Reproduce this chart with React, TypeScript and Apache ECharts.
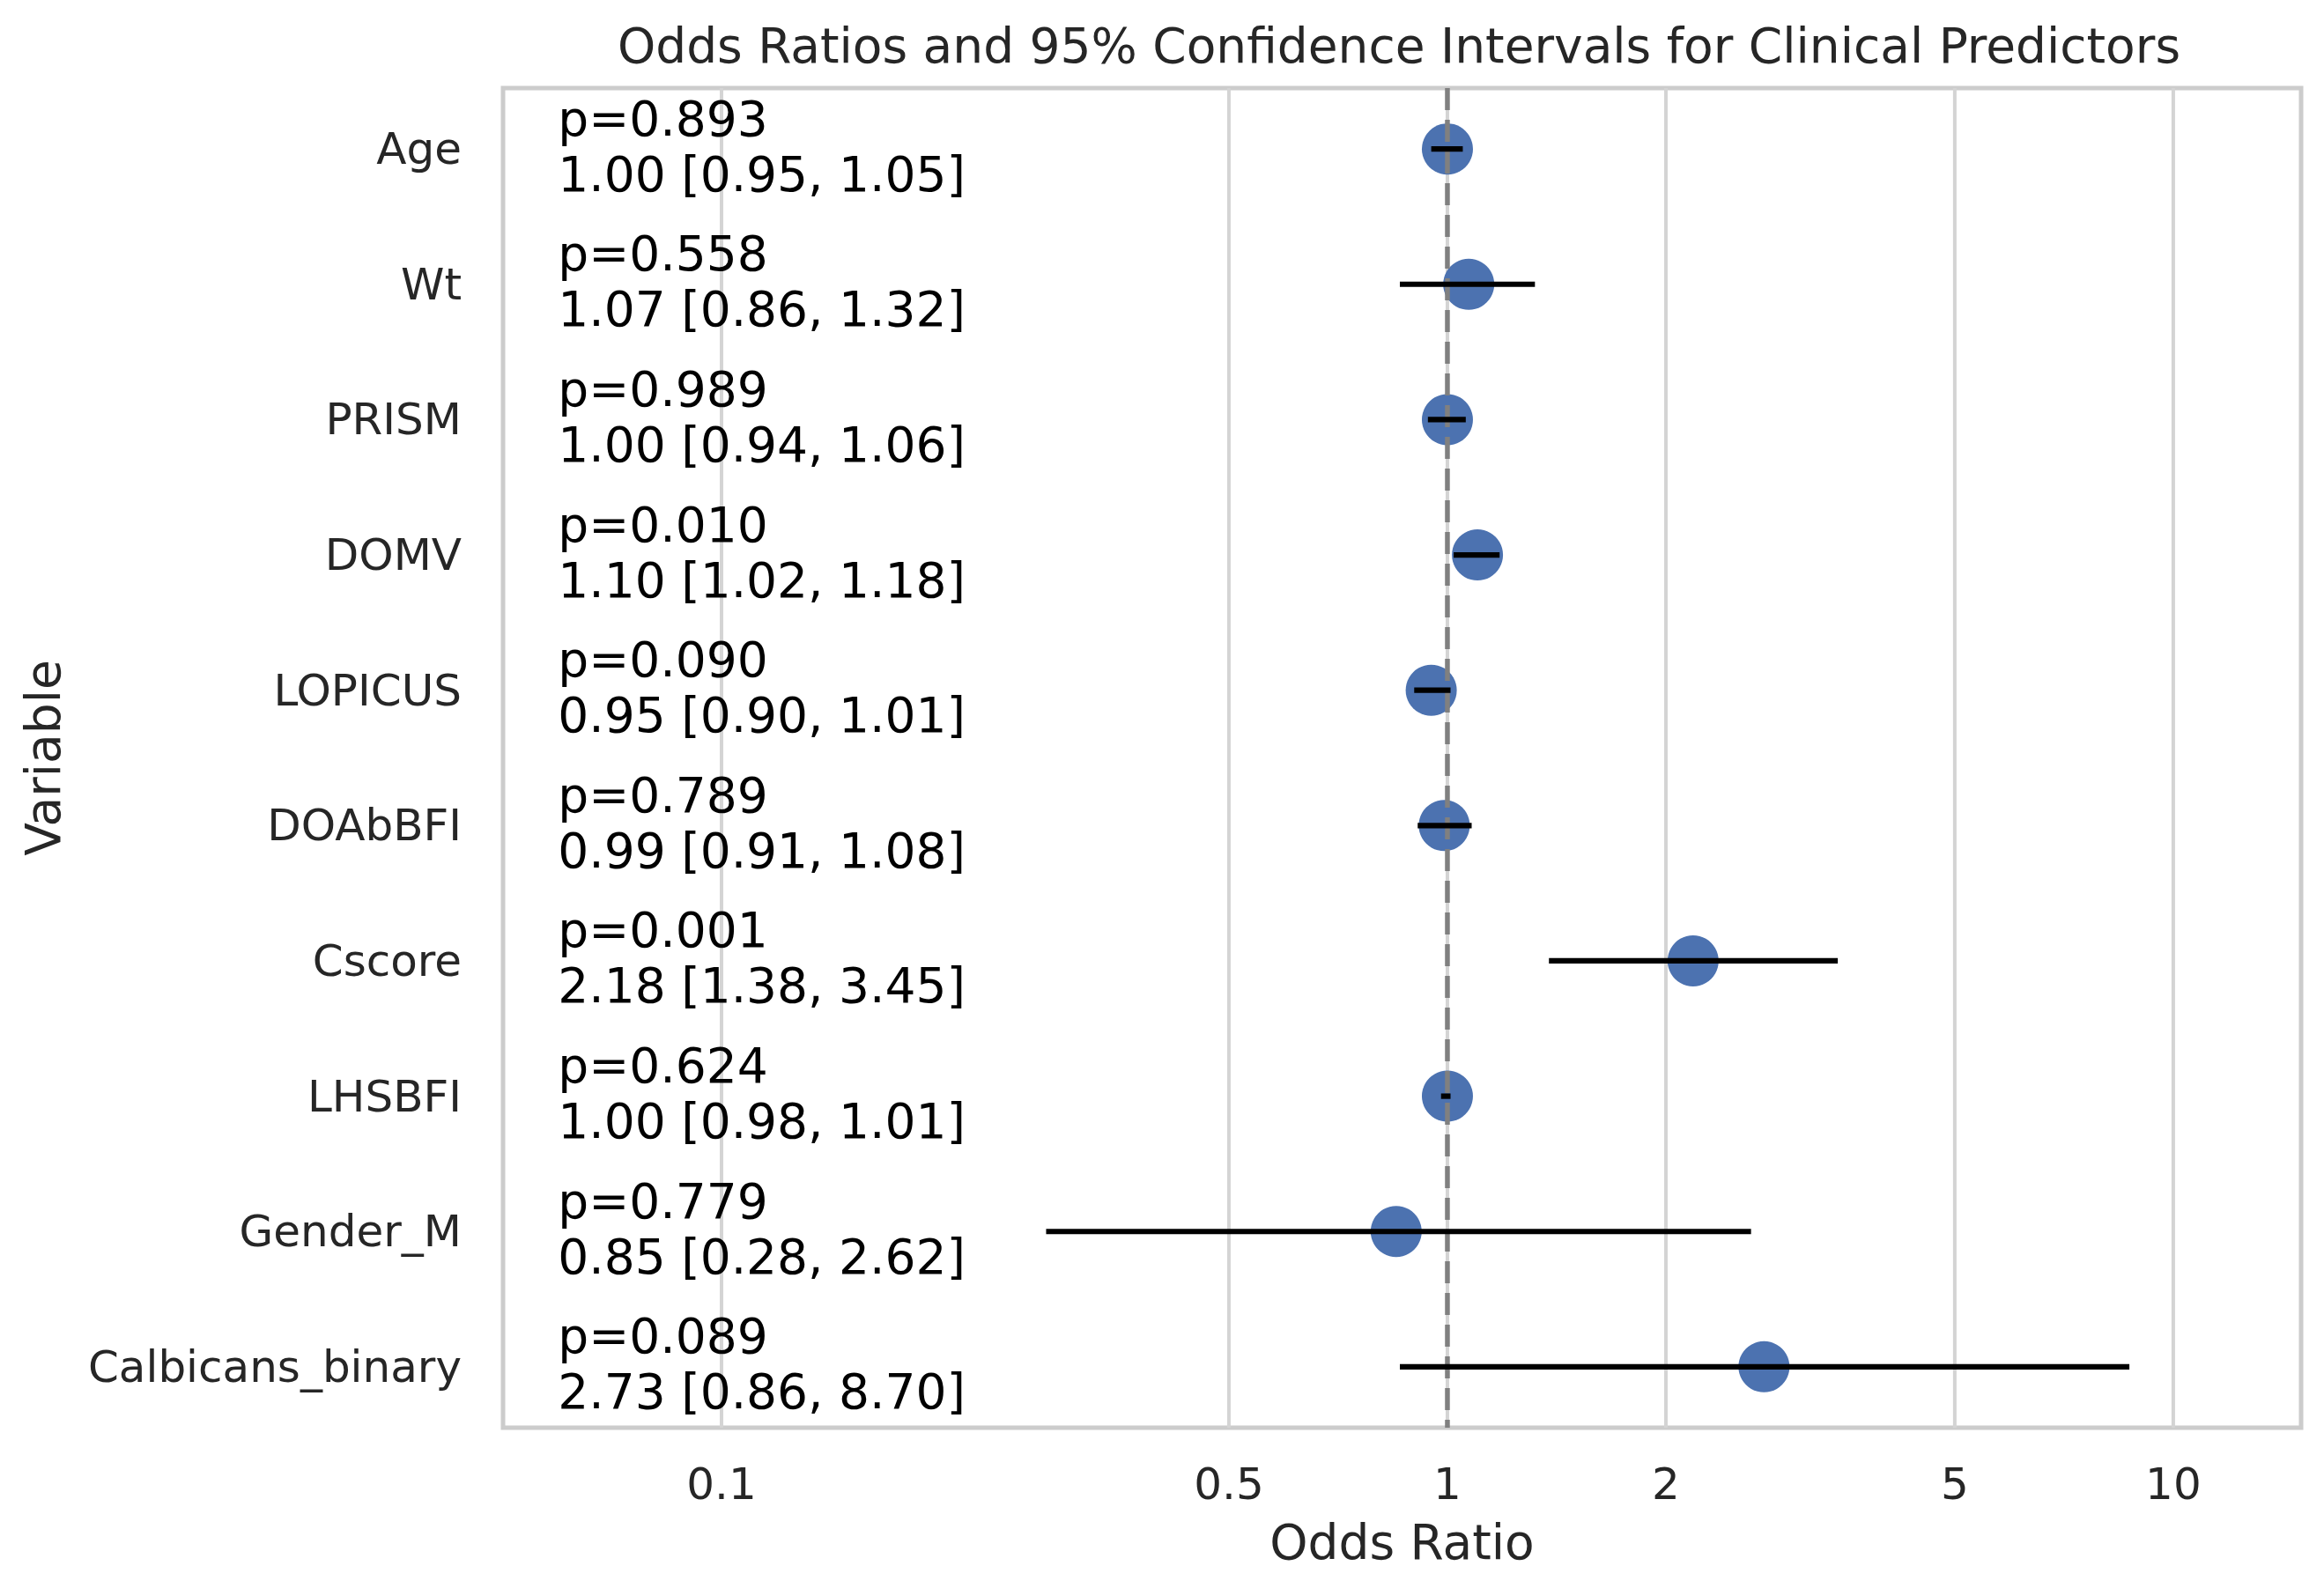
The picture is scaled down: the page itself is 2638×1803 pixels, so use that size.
import React, { useEffect, useRef } from "react";
import * as echarts from "echarts";

const categories = ["Age", "Wt", "PRISM", "DOMV", "LOPICUS", "DOAbBFI", "Cscore", "LHSBFI", "Gender_M", "Calbicans_binary"];
const oddsRatios = [1.0, 1.07, 1.0, 1.1, 0.95, 0.99, 2.18, 1.0, 0.85, 2.73];
const ciLower = [0.95, 0.86, 0.94, 1.02, 0.9, 0.91, 1.38, 0.98, 0.28, 0.86];
const ciUpper = [1.05, 1.32, 1.06, 1.18, 1.01, 1.08, 3.45, 1.01, 2.62, 8.7];
const pValues = ["0.893", "0.558", "0.989", "0.010", "0.090", "0.789", "0.001", "0.624", "0.779", "0.089"];
const xTicks = [0.1, 0.5, 1, 2, 5, 10];
const xTickLabels = ["0.1", "0.5", "1", "2", "5", "10"];
const referenceOR = [1];
const xMin = 0.05;
const xMax = 15;
const annotationX = 0.06;

const FONT = "DejaVu Sans";
const lg = (v: number) => Math.log10(v);
const Y_MIN = -0.45;
const Y_MAX = categories.length - 1 + 0.45;

export default function App() {
  const ref = useRef<HTMLDivElement>(null);
  useEffect(() => {
    document.body.style.margin = "0";
    const chart = echarts.init(ref.current!, null, { renderer: "svg" });
    const option: any = {
      animation: false,
      backgroundColor: "#ffffff",
      title: {
        text: "Odds Ratios and 95% Confidence Intervals for Clinical Predictors",
        left: 1583,
        textAlign: "center",
        top: 19,
        textStyle: { fontFamily: FONT, fontSize: 55, fontWeight: "normal", color: "#262626" },
      },
      grid: {
        left: 571,
        right: 26,
        top: 100,
        bottom: 182,
        show: true,
        borderColor: "#cccccc",
        borderWidth: 5,
        backgroundColor: "transparent",
      },
      xAxis: {
        type: "value",
        min: lg(xMin),
        max: lg(xMax),
        axisLine: { show: false },
        axisTick: { show: false },
        splitLine: { show: false },
        axisLabel: {
          customValues: xTicks.map(lg),
          formatter: (v: number) => {
            let best = 0;
            xTicks.forEach((t, i) => {
              if (Math.abs(lg(t) - v) < Math.abs(lg(xTicks[best]) - v)) best = i;
            });
            return xTickLabels[best];
          },
          fontFamily: FONT,
          fontSize: 50,
          color: "#262626",
          margin: 39,
        },
        name: "Odds Ratio",
        nameLocation: "middle",
        nameGap: 102,
        nameTextStyle: { fontFamily: FONT, fontSize: 55, color: "#262626" },
      },
      yAxis: {
        type: "value",
        min: Y_MIN,
        max: Y_MAX,
        inverse: true,
        axisLine: { show: false },
        axisTick: { show: false },
        splitLine: { show: false },
        axisLabel: {
          customValues: categories.map((_, i) => i),
          formatter: (v: number) => categories[Math.round(v)] ?? "",
          fontFamily: FONT,
          fontSize: 50,
          color: "#262626",
          margin: 47,
        },
        name: "Variable",
        nameLocation: "middle",
        nameRotate: 90,
        nameGap: 495,
        nameTextStyle: { fontFamily: FONT, fontSize: 55, color: "#262626" },
      },
      series: [
        {
          type: "custom",
          name: "grid",
          z: 1,
          silent: true,
          data: xTicks.map((t) => [lg(t)]),
          encode: { x: 0 },
          renderItem: (params: any, api: any) => {
            const a = api.coord([api.value(0), Y_MIN]);
            const b = api.coord([api.value(0), Y_MAX]);
            return {
              type: "line",
              shape: { x1: a[0], y1: a[1], x2: b[0], y2: b[1] },
              style: { stroke: "#d4d4d4", lineWidth: 4 },
            };
          },
        },
        {
          type: "scatter",
          name: "OR",
          z: 2,
          symbol: "circle",
          symbolSize: 58,
          itemStyle: { color: "#4C72B0", opacity: 1 },
          data: oddsRatios.map((v, i) => [lg(v), i]),
        },
        {
          type: "custom",
          name: "reference",
          z: 3,
          silent: true,
          data: referenceOR.map((t) => [lg(t)]),
          encode: { x: 0 },
          renderItem: (params: any, api: any) => {
            const a = api.coord([api.value(0), Y_MIN]);
            const b = api.coord([api.value(0), Y_MAX]);
            return {
              type: "line",
              shape: { x1: a[0], y1: a[1], x2: b[0], y2: b[1] },
              style: { stroke: "#808080", lineWidth: 5.5, lineDash: [25, 11] },
            };
          },
        },
        {
          type: "custom",
          name: "CI",
          z: 4,
          silent: true,
          data: ciLower.map((lo, i) => [lg(lo), lg(ciUpper[i]), i]),
          encode: { x: [0, 1], y: 2 },
          renderItem: (params: any, api: any) => {
            const a = api.coord([api.value(0), api.value(2)]);
            const b = api.coord([api.value(1), api.value(2)]);
            return {
              type: "line",
              shape: { x1: a[0], y1: a[1], x2: b[0], y2: b[1] },
              style: { stroke: "#000000", lineWidth: 6.2 },
            };
          },
        },
        {
          type: "custom",
          name: "annotations",
          z: 5,
          silent: true,
          data: categories.map((_, i) => [lg(annotationX), i]),
          encode: { x: 0, y: 1 },
          renderItem: (params: any, api: any) => {
            const i = params.dataIndex;
            const p = api.coord([api.value(0), api.value(1)]);
            const txt =
              "p=" + pValues[i] + "\n" +
              oddsRatios[i].toFixed(2) + " [" + ciLower[i].toFixed(2) + ", " + ciUpper[i].toFixed(2) + "]";
            return {
              type: "text",
              x: p[0] - 3,
              y: p[1] - 3,
              style: {
                text: txt,
                fontFamily: FONT,
                fontSize: 55,
                fill: "#000000",
                align: "left",
                verticalAlign: "middle",
                lineHeight: 63,
              },
            };
          },
        },
      ],
    };
    chart.setOption(option);
    return () => chart.dispose();
  }, []);
  return <div ref={ref} style={{ width: 2638, height: 1803 }} />;
}
